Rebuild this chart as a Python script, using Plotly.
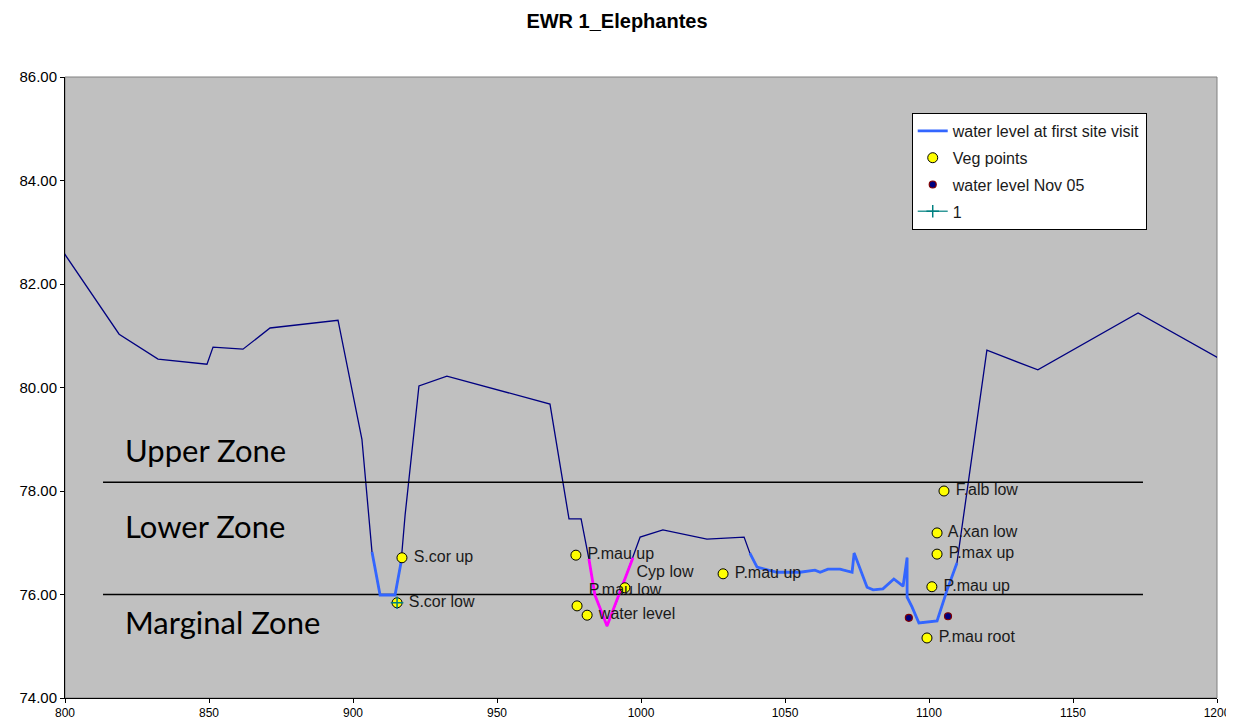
import plotly.graph_objects as go

# ground profile (chainage, elevation)
profile_x = [798.3, 818.8, 832.3, 849.3, 851.4, 861.8, 871.2, 894.8, 903.1, 906.6,
             909.4, 914.6, 916.7, 918.1, 922.9, 932.6, 968.4, 975.0, 979.2, 981.9,
             984.0, 988.2, 991.7, 997.2, 999.7, 1007.6, 1022.9, 1035.8, 1037.8, 1040.3,
             1047.2, 1055.2, 1060.4, 1062.2, 1064.9, 1069.1, 1073.3, 1074.0, 1078.5, 1080.6,
             1084.0, 1087.8, 1091.0, 1092.4, 1092.4, 1094.1, 1096.5, 1102.8, 1106.3, 1109.7,
             1120.1, 1137.8, 1172.6, 1201.7]
profile_y = [82.71, 81.03, 80.55, 80.45, 80.78, 80.74, 81.15, 81.30, 79.00, 76.82,
             75.99, 75.99, 76.63, 77.54, 80.03, 80.22, 79.68, 77.46, 77.46, 76.69,
             75.99, 75.39, 75.89, 76.71, 77.11, 77.25, 77.07, 77.11, 76.80, 76.53,
             76.43, 76.43, 76.47, 76.43, 76.49, 76.49, 76.43, 76.80, 76.14, 76.09,
             76.11, 76.30, 76.16, 76.71, 75.95, 75.76, 75.45, 75.49, 76.09, 76.61,
             80.72, 80.34, 81.44, 80.53]

# water level at first site visit (gaps = None)
wl_x = [906.6, 909.4, 914.6, 916.7, None,
        1037.8, 1040.3, 1047.2, 1055.2, 1060.4, 1062.2, 1064.9, 1069.1, 1073.3, 1074.0,
        1078.5, 1080.6, 1084.0, 1087.8, 1091.0, 1092.4, 1092.4, 1094.1, 1096.5, 1102.8,
        1106.3, 1109.7]
wl_y = [76.82, 75.99, 75.99, 76.63, None,
        76.80, 76.53, 76.43, 76.43, 76.47, 76.43, 76.49, 76.49, 76.43, 76.80,
        76.14, 76.09, 76.11, 76.30, 76.16, 76.71, 75.95, 75.76, 75.45, 75.49,
        76.09, 76.61]

# pool section (magenta)
pool_x = [981.9, 984.0, 988.2, 991.7, 997.2]
pool_y = [76.69, 75.99, 75.39, 75.89, 76.71]

# vegetation points
veg_x = [917.0, 915.3, 977.4, 994.4, 977.8, 981.3, 1028.5, 1105.2, 1102.8, 1102.8, 1101.0, 1099.3]
veg_y = [76.71, 75.84, 76.76, 76.13, 75.78, 75.60, 76.40, 78.00, 77.19, 76.78, 76.15, 75.16]
veg_labels = ['S.cor up', 'S.cor low', 'P.mau up', 'Cyp low', 'P.mau low', 'water level',
              'P.mau up', 'F.alb low', 'A.xan low', 'P.max up', 'P.mau up', 'P.mau root']
veg_textpos = ['middle right', 'middle right', 'middle right', 'top right', 'top right', 'middle right',
               'middle right', 'middle right', 'middle right', 'middle right', 'middle right', 'middle right']

# water level Nov 05
nov_x = [1093.0, 1106.6]
nov_y = [75.55, 75.58]

# series "1"
one_x = [915.3]
one_y = [75.84]

# zone boundaries
zone_x = [813.2, 1174.3]
upper_y = [78.17, 78.17]
lower_y = [76.0, 76.0]
zone_names = ['Upper Zone', 'Lower Zone', 'Marginal Zone']
zone_label_y = [78.79, 77.32, 75.47]

fig = go.Figure()

fig.add_trace(go.Scatter(x=profile_x, y=profile_y, mode='lines',
                         line=dict(color='#000080', width=1.3), showlegend=False, hoverinfo='skip'))
fig.add_trace(go.Scatter(x=zone_x, y=upper_y, mode='lines',
                         line=dict(color='black', width=1.6), showlegend=False))
fig.add_trace(go.Scatter(x=zone_x, y=lower_y, mode='lines',
                         line=dict(color='black', width=1.6), showlegend=False))
fig.add_trace(go.Scatter(x=pool_x, y=pool_y, mode='lines',
                         line=dict(color='#FF00FF', width=2.8), showlegend=False))

fig.add_trace(go.Scatter(x=wl_x, y=wl_y, mode='lines', name='water level at first site visit',
                         line=dict(color='#3366FF', width=2.8), legendgroup='a'))
fig.add_trace(go.Scatter(x=veg_x, y=veg_y, mode='markers+text', name='Veg points',
                         text=[' ' + t for t in veg_labels], textposition=veg_textpos,
                         textfont=dict(family='Arial', size=16, color='#1a1a1a'),
                         marker=dict(color='#FFFF00', size=10, line=dict(color='black', width=1)),
                         legendgroup='b'))
fig.add_trace(go.Scatter(x=nov_x, y=nov_y, mode='markers', name='water level Nov 05',
                         marker=dict(color='#000080', size=7, line=dict(color='#800000', width=1.2)),
                         legendgroup='c'))
fig.add_trace(go.Scatter(x=one_x, y=one_y, mode='lines+markers', name='1',
                         line=dict(color='#339999', width=1.5),
                         marker=dict(symbol='cross-thin', size=9, color='#008080',
                                     line=dict(color='#008080', width=1.5)),
                         legendgroup='d'))

for name, yy in zip(zone_names, zone_label_y):
    fig.add_annotation(x=820.1, y=yy, text=name, showarrow=False, xanchor='left', yanchor='middle',
                       font=dict(family='Lato', size=31, color='black'))

# border of plot area
fig.add_shape(type='rect', xref='paper', yref='paper', x0=0, x1=1, y0=0, y1=1,
              line=dict(color='#808080', width=1), layer='below')

# page body has an 8px margin, so the figure is sized to the visible area
fig.update_layout(
    width=1226, height=717,
    title=dict(text='<b>EWR 1_Elephantes</b>', x=609 / 1226, xanchor='center', y=1 - 13 / 717,
               yanchor='middle', font=dict(family='Arial', size=20, color='black')),
    paper_bgcolor='white', plot_bgcolor='#C0C0C0',
    margin=dict(l=57, r=17, t=69, b=27, autoexpand=False),
    font=dict(family='Arial', size=14, color='black'),
    legend=dict(x=0.735, y=0.942, xanchor='left', yanchor='top', bgcolor='white',
                bordercolor='black', borderwidth=1, traceorder='grouped', tracegroupgap=3,
                font=dict(family='Arial', size=16, color='#1a1a1a')),
    xaxis=dict(range=[800, 1200], dtick=50, showgrid=False, zeroline=False, ticks='outside',
               ticklen=4, tickcolor='black', showline=True, linecolor='black', linewidth=1,
               automargin=False, ticklabeloverflow='allow', tickfont=dict(family='Arial', size=12)),
    yaxis=dict(range=[74, 86], dtick=2, tickformat='.2f', showgrid=False, zeroline=False,
               ticks='outside', ticklen=4, tickcolor='black', showline=True, linecolor='black',
               linewidth=1, automargin=False, tickfont=dict(family='Arial', size=15)),
)

fig.write_html('out.html')
